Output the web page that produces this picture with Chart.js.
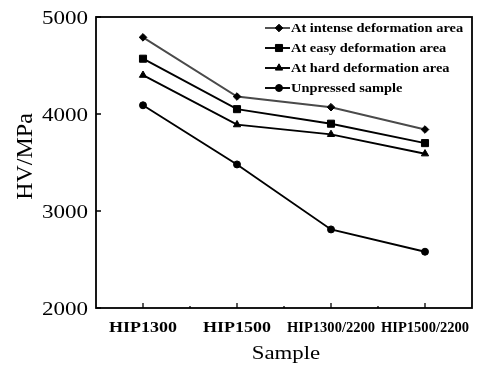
<!DOCTYPE html>
<html>
<head>
<meta charset="utf-8">
<script src="https://cdn.jsdelivr.net/npm/chart.js@4"></script>
<style>
  html, body { margin: 0; padding: 0; background: #fff; }
  #wrap { width: 486px; height: 365px; }
</style>
</head>
<body>
<div id="wrap"><canvas id="hvChart" width="486" height="365"></canvas></div>
<script>
// Chart data
const samples = ["HIP1300", "HIP1500", "HIP1300/2200", "HIP1500/2200"];
const intenseArea = [4790, 4180, 4070, 3840];
const easyArea = [4570, 4050, 3900, 3700];
const hardArea = [4400, 3890, 3790, 3590];
const unpressed = [4090, 3480, 2810, 2580];
const yTicks = [2000, 3000, 4000, 5000];

const serif = "'Liberation Serif', 'Times New Roman', serif";

// Build one dataset
const makeSeries = (label, data, pointStyle, radius, color) => ({
  label,
  data,
  pointStyle,
  pointRadius: radius,
  pointHoverRadius: radius,
  borderColor: color,
  backgroundColor: "#000",
  pointBorderColor: "#000",
  pointBackgroundColor: "#000",
  borderWidth: 1.9,
  pointBorderWidth: 1,
  tension: 0,
});

// Text drawn a bit wider than the font, like the scanned figure
const drawLabel = (ctx, text, x, y, font, align, sx, maxW) => {
  ctx.font = font;
  const w = ctx.measureText(text).width;
  let target = w * sx;
  if (maxW && target > maxW) target = maxW;
  ctx.save();
  ctx.translate(x, y);
  ctx.scale(target / w, 1);
  ctx.textAlign = align;
  ctx.fillText(text, 0, 0);
  ctx.restore();
};

// Frame, inward ticks, labels and the line+marker legend
const framePlugin = {
  id: "frame",
  afterDraw: (chart) => {
    const { ctx, chartArea: a, scales } = chart;
    ctx.save();
    ctx.strokeStyle = "#000";
    ctx.lineWidth = 1.8;
    ctx.strokeRect(a.left, a.top, a.right - a.left, a.bottom - a.top);

    ctx.lineWidth = 1.3;
    ctx.beginPath();
    yTicks.forEach((v) => {
      const y = scales.y.getPixelForValue(v);
      ctx.moveTo(a.left, y);
      ctx.lineTo(a.left + 5, y);
    });
    samples.forEach((s, i) => {
      const x = scales.x.getPixelForValue(i);
      ctx.moveTo(x, a.bottom);
      ctx.lineTo(x, a.bottom - 5);
      if (i > 0) {
        const xm = (x + scales.x.getPixelForValue(i - 1)) / 2;
        ctx.moveTo(xm, a.bottom);
        ctx.lineTo(xm, a.bottom - 2);
      }
    });
    ctx.stroke();

    // tick labels
    ctx.fillStyle = "#000";
    ctx.textBaseline = "alphabetic";
    yTicks.forEach((v) => {
      const y = scales.y.getPixelForValue(v);
      drawLabel(ctx, String(v), a.left - 8, y + 7, "18px " + serif, "right", 1.28);
    });
    samples.forEach((s, i) => {
      const x = scales.x.getPixelForValue(i);
      drawLabel(ctx, s, x, a.bottom + 24, "bold 15px " + serif, "center", 1.2, 88);
    });

    // axis titles
    drawLabel(ctx, "Sample", (a.left + a.right) / 2 + 2, 359, "19px " + serif, "center", 1.2);
    ctx.save();
    ctx.translate(32, (a.top + a.bottom) / 2 - 6);
    ctx.rotate(-Math.PI / 2);
    drawLabel(ctx, "HV/MPa", 0, 0, "24px " + serif, "center", 1);
    ctx.restore();

    // legend
    const x0 = a.left + 169;
    chart.data.datasets.forEach((ds, i) => {
      const y = a.top + 11 + i * 20;
      ctx.strokeStyle = ds.borderColor;
      ctx.lineWidth = 1.9;
      ctx.beginPath();
      ctx.moveTo(x0, y);
      ctx.lineTo(x0 + 25, y);
      ctx.stroke();
      ctx.fillStyle = "#000";
      ctx.strokeStyle = "#000";
      ctx.lineWidth = 1;
      Chart.helpers.drawPoint(ctx, { pointStyle: ds.pointStyle, radius: ds.pointRadius, borderWidth: 1, rotation: 0 }, x0 + 14, y);
      drawLabel(ctx, ds.label, x0 + 26, y + 4, "bold 12px " + serif, "left", 1.2);
    });
    ctx.restore();
  },
};

const ctx = document.getElementById("hvChart").getContext("2d");
new Chart(ctx, {
  type: "line",
  data: {
    labels: samples,
    datasets: [
      makeSeries("At intense deformation area", intenseArea, "rectRot", 3.8, "#4a4a4a"),
      makeSeries("At easy deformation area", easyArea, "rect", 5, "#000"),
      makeSeries("At hard deformation area", hardArea, "triangle", 4.2, "#000"),
      makeSeries("Unpressed sample", unpressed, "circle", 3.5, "#000"),
    ],
  },
  options: {
    responsive: false,
    animation: false,
    layout: { padding: { top: 17, right: 14, left: 0, bottom: 0 } },
    plugins: {
      legend: { display: false },
      tooltip: { enabled: false },
    },
    scales: {
      x: {
        offset: true,
        grid: { display: false, drawTicks: false },
        border: { display: false },
        ticks: { display: false },
        afterFit: (scale) => { scale.height = 57; },
      },
      y: {
        min: 2000,
        max: 5000,
        afterBuildTicks: (scale) => { scale.ticks = yTicks.map((v) => ({ value: v })); },
        grid: { display: false, drawTicks: false },
        border: { display: false },
        ticks: { display: false },
        afterFit: (scale) => { scale.width = 96; },
      },
    },
  },
  plugins: [framePlugin],
});
</script>
</body>
</html>
